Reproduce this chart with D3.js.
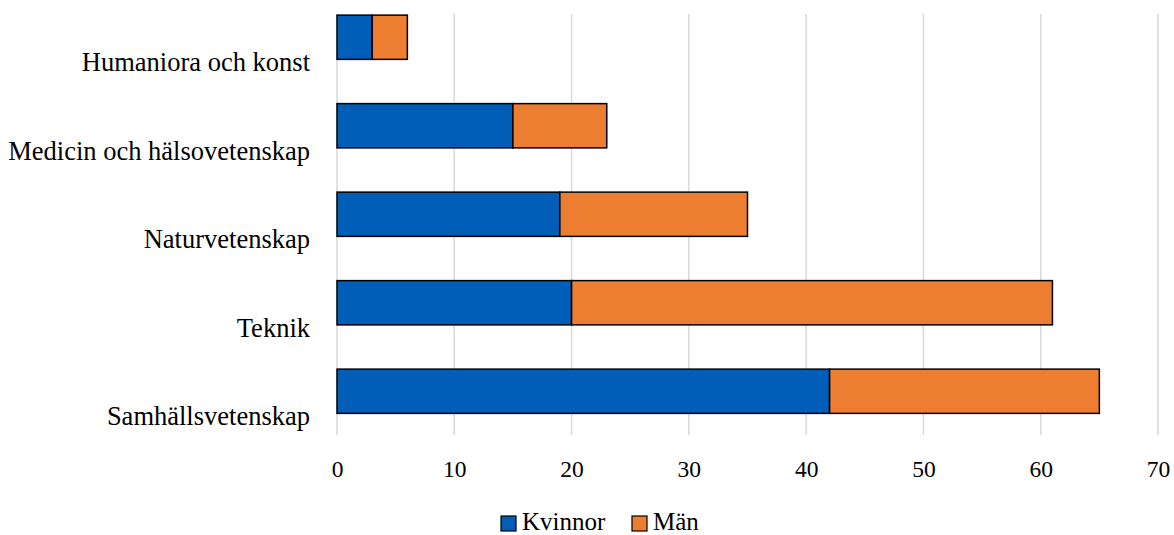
<!DOCTYPE html>
<html>
<head>
<meta charset="utf-8">
<script src="https://cdn.jsdelivr.net/npm/d3@7"></script>
<style>
  body { margin: 0; background: #fff; }
</style>
</head>
<body>
<div id="chart"></div>
<script>
// categories top to bottom
var categories = ["Humaniora och konst", "Medicin och hälsovetenskap", "Naturvetenskap", "Teknik", "Samhällsvetenskap"];
var kvinnor = [3, 15, 19, 20, 42];
var man = [3, 8, 16, 41, 23];
var seriesNames = ["Kvinnor", "Män"];
var colors = ["#005EB8", "#ED7D31"];
var xTicks = [0, 10, 20, 30, 40, 50, 60, 70];

var serif = "'Liberation Serif', 'Times New Roman', serif";
var w = 1174, h = 535;
var svg = d3.select("#chart").append("svg")
  .attr("width", w)
  .attr("height", h);

var x = d3.scaleLinear().domain([0, 70]).range([337, 1158]);
var y = d3.scaleBand().domain(categories)
  .range([-7, -7 + 5 * 88.5])
  .paddingInner(0.5)
  .paddingOuter(0.25);

// gridlines
svg.append("g").selectAll("line")
  .data(xTicks)
  .enter().append("line")
  .attr("x1", function(d) { return x(d); })
  .attr("x2", function(d) { return x(d); })
  .attr("y1", 14)
  .attr("y2", 435)
  .attr("stroke", "#d9d9d9")
  .attr("stroke-width", 1.5);

// stacked data
var rows = categories.map(function(c, i) {
  return { cat: c, Kvinnor: kvinnor[i], "Män": man[i] };
});
var stack = d3.stack().keys(seriesNames)(rows);

svg.append("g").selectAll("g")
  .data(stack)
  .enter().append("g")
  .attr("fill", function(d, i) { return colors[i]; })
  .selectAll("rect")
  .data(function(d) { return d; })
  .enter().append("rect")
  .attr("x", function(d) { return x(d[0]); })
  .attr("width", function(d) { return x(d[1]) - x(d[0]); })
  .attr("y", function(d) { return y(d.data.cat); })
  .attr("height", y.bandwidth())
  .attr("stroke", "#000")
  .attr("stroke-width", 1.5);

// category labels (sit a bit below bar centres, like the original)
svg.append("g").selectAll("text")
  .data(categories)
  .enter().append("text")
  .attr("x", 310)
  .attr("y", function(d) { return y(d) + y.bandwidth() / 2 + 34; })
  .attr("text-anchor", "end")
  .style("font-family", serif)
  .style("font-size", "26.5px")
  .attr("fill", "#000")
  .text(function(d) { return d; });

// x axis tick labels
var xAxis = d3.axisBottom(x).tickValues(xTicks).tickSize(0).tickPadding(0);
var ax = svg.append("g")
  .attr("transform", "translate(0,477)")
  .call(xAxis);
ax.select(".domain").remove();
ax.selectAll("text")
  .attr("dy", 0)
  .attr("fill", "#000")
  .style("font-family", serif)
  .style("font-size", "23.5px");

// legend
var legend = svg.append("g").attr("transform", "translate(501,530)");
var lx = [0, 131];
seriesNames.forEach(function(s, i) {
  legend.append("rect")
    .attr("x", lx[i])
    .attr("y", -14)
    .attr("width", 15)
    .attr("height", 15)
    .attr("fill", colors[i])
    .attr("stroke", "#000")
    .attr("stroke-width", 1.2);
  legend.append("text")
    .attr("x", lx[i] + 21)
    .attr("y", 0)
    .attr("fill", "#000")
    .style("font-family", serif)
    .style("font-size", "25px")
    .text(s);
});
</script>
</body>
</html>
